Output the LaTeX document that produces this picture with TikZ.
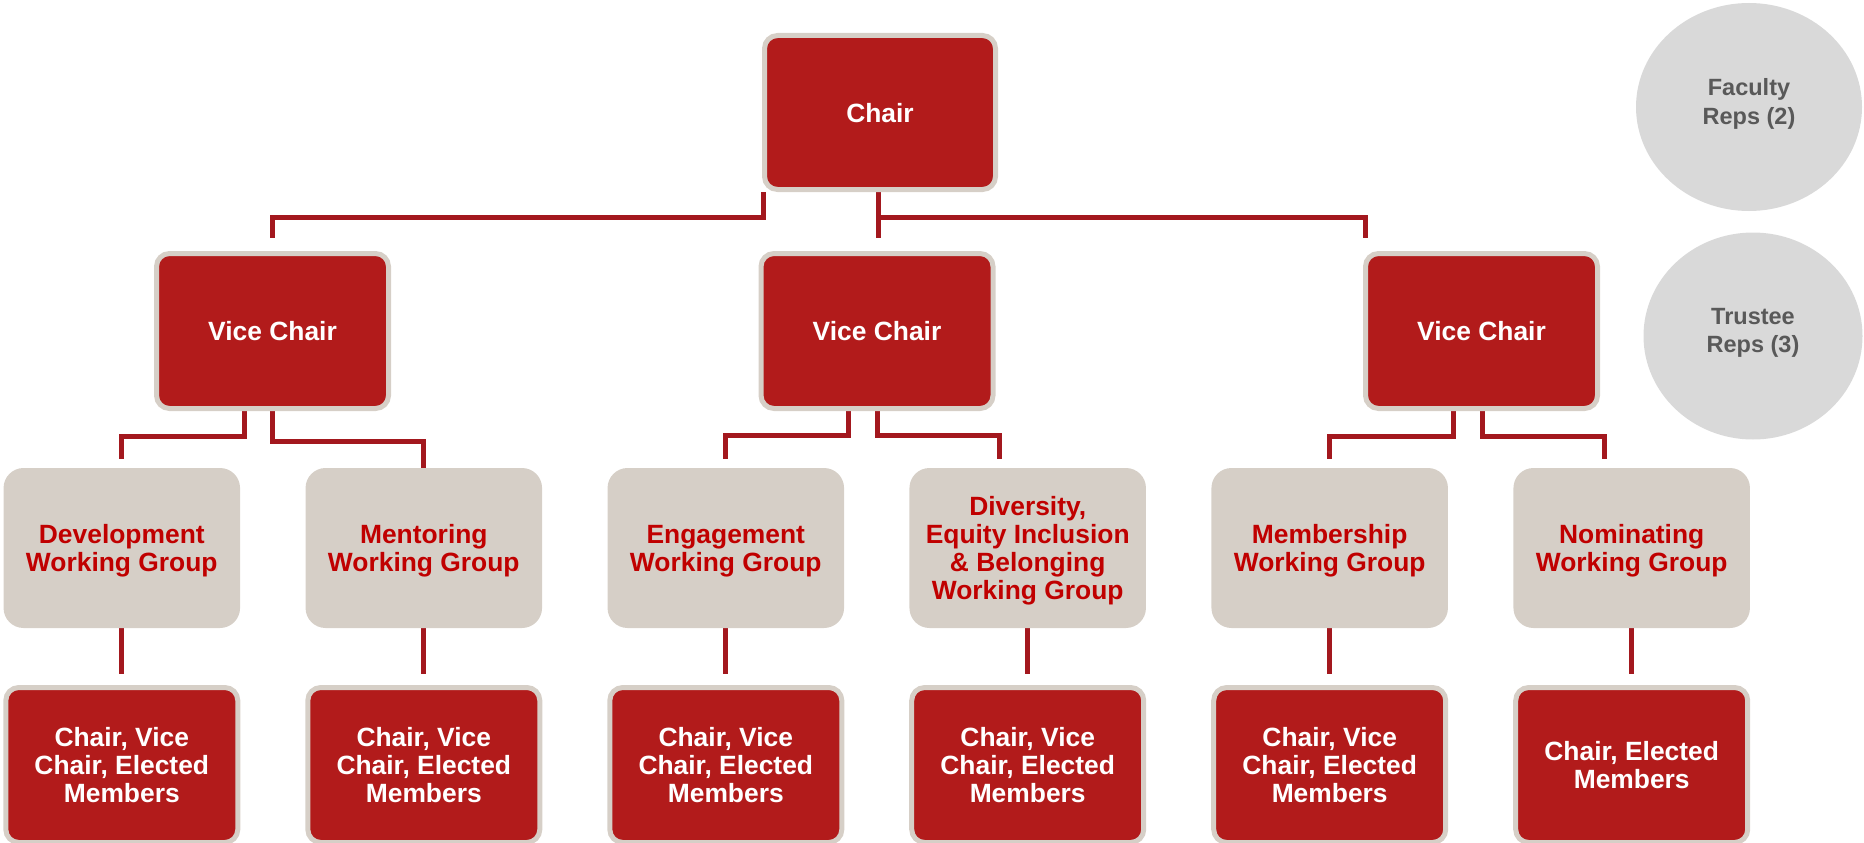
\documentclass[tikz,border=0pt]{standalone}
\usepackage{fontspec}
\setmainfont{Liberation Sans}
\usetikzlibrary{calc,backgrounds,shapes.geometric}
\definecolor{boxred}{RGB}{178,27,27}
\definecolor{beige}{RGB}{214,207,199}
\definecolor{linered}{RGB}{163,24,30}
\definecolor{wgred}{RGB}{192,0,0}
\definecolor{circgray}{RGB}{217,217,217}
\definecolor{circtext}{RGB}{89,89,89}
\begin{document}
\begin{tikzpicture}[x=1pt,y=-1pt,
  boxfont/.style={font=\bfseries\fontsize{26.4}{28}\selectfont},
  redbox/.style={draw=beige, line width=5pt, fill=boxred, rounded corners=13pt,
    minimum width=232pt, minimum height=155pt, inner sep=0pt, align=center,
    text=white, boxfont, text depth=0pt},
  wgbox/.style={fill=beige, rounded corners=20pt, minimum width=236.5pt,
    minimum height=160pt, inner sep=0pt, align=center, text=wgred, boxfont,
    text depth=0pt},
  rep/.style={ellipse, fill=circgray, inner sep=0pt},
  reptext/.style={text=circtext, align=center, inner sep=0pt,
    font=\bfseries\fontsize{23.5}{28.5}\selectfont},
  conn/.style={draw=linered, line width=5pt}
]
\useasboundingbox (0,0) rectangle (1864,843);

% top
\node[redbox, minimum width=231pt, minimum height=154pt] (chair) at (880,112.5) {Chair};

% vice chairs
\node[redbox] (vc1) at (272.5,331) {Vice Chair};
\node[redbox] (vc2) at (877,331) {Vice Chair};
\node[redbox] (vc3) at (1481.5,331) {Vice Chair};

% working groups
\node[wgbox] (wg1) at (121.8,548) {Development\\Working Group};
\node[wgbox] (wg2) at (423.8,548) {Mentoring\\Working Group};
\node[wgbox] (wg3) at (725.8,548) {Engagement\\Working Group};
\node[wgbox] (wg4) at (1027.7,548) {Diversity,\\Equity Inclusion\\\& Belonging\\Working Group};
\node[wgbox] (wg5) at (1329.7,548) {Membership\\Working Group};
\node[wgbox] (wg6) at (1631.7,548) {Nominating\\Working Group};

% members
\node[redbox] (b1) at (121.8,765) {Chair, Vice\\Chair, Elected\\Members};
\node[redbox] (b2) at (423.8,765) {Chair, Vice\\Chair, Elected\\Members};
\node[redbox] (b3) at (725.8,765) {Chair, Vice\\Chair, Elected\\Members};
\node[redbox] (b4) at (1027.7,765) {Chair, Vice\\Chair, Elected\\Members};
\node[redbox] (b5) at (1329.7,765) {Chair, Vice\\Chair, Elected\\Members};
\node[redbox] (b6) at (1631.7,765) {Chair, Elected\\Members};

% reps
\node[rep, minimum width=226pt, minimum height=208pt] (fac) at (1749,107) {};
\node[reptext] (factext) at ($(fac.center)+(0,-3)$) {Faculty\\Reps (2)};
\node[rep, minimum width=219pt, minimum height=207pt] (tru) at (1753,336) {};
\node[reptext] (trutext) at ($(tru.center)+(0,-3)$) {Trustee\\Reps (3)};

\begin{scope}[on background layer]
\draw[conn] ($(chair.south west)+(1.5,0)$) -- ++(0,25.5) -| ($(vc1.north)+(-0.5,-13.5)$);
\draw[conn] ($(chair.south)+(-2,0)$) -- ($(vc2.north)+(1,-13.5)$);
\draw[conn] ($(chair.south)+(-2,0)$) -- ++(0,25.5) -| ($(vc3.north west)+(2.5,-13.5)$);

\draw[conn] ($(vc1.south)+(-28.5,0)$) -- ++(0,25.5) -| ($(wg1.north)+(0,-9)$);
\draw[conn] ($(vc1.south)+(-0.5,0)$) -- ++(0,30.5) -| (wg2.north);
\draw[conn] ($(vc2.south)+(-29,0)$) -- ++(0,24.5) -| ($(wg3.north)+(0,-9)$);
\draw[conn] (vc2.south) -- ++(0,24.5) -| ($(wg4.north)+(-28.7,-9)$);
\draw[conn] ($(vc3.south)+(-28.5,0)$) -- ++(0,25.5) -| ($(wg5.north)+(0,-9)$);
\draw[conn] ($(vc3.south)+(0.5,0)$) -- ++(0,25.5) -| ($(wg6.north)+(-27.7,-9)$);

\foreach \i in {1,...,6}{
  \draw[conn] (wg\i.south) -- ($(b\i.north)+(0,-11.5)$);
}
\end{scope}
\end{tikzpicture}
\end{document}
